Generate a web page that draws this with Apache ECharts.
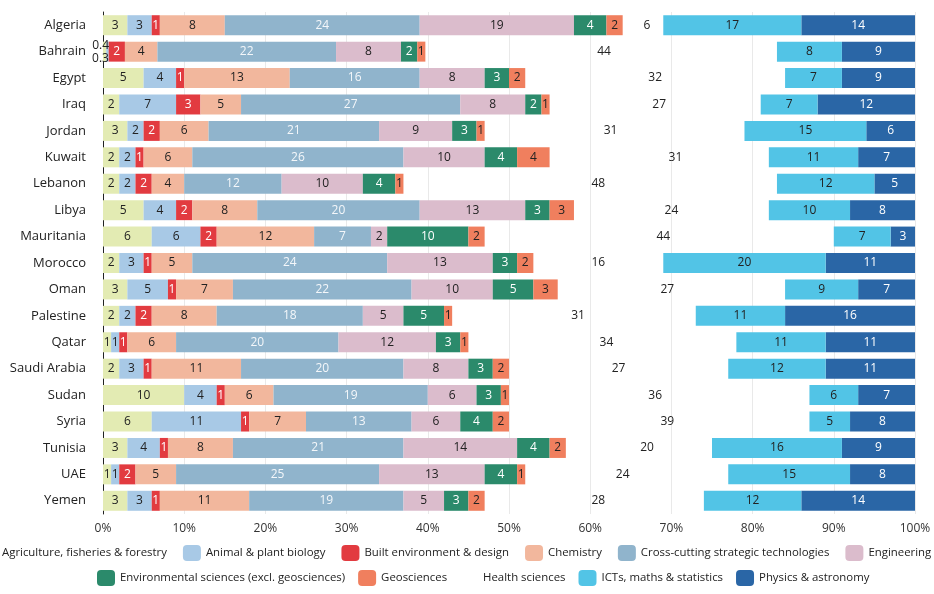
<!DOCTYPE html>
<html><head><meta charset="utf-8">
<script src="https://cdn.jsdelivr.net/npm/echarts@6/dist/echarts.min.js"></script>
<style>html,body{margin:0;padding:0;background:#fff}#c{width:934px;height:594px}</style>
</head><body><div id="c"></div>
<script>
const countries = ['Algeria','Bahrain','Egypt','Iraq','Jordan','Kuwait','Lebanon','Libya','Mauritania','Morocco','Oman','Palestine','Qatar','Saudi Arabia','Sudan','Syria','Tunisia','UAE','Yemen'];
const agriculture   = [3,0.4,5,2,3,2,2,5,6,2,3,2,1,2,10,6,3,1,3];
const animalPlant   = [3,0.3,4,7,2,2,2,4,6,3,5,2,1,3,4,11,4,1,3];
const builtEnv      = [1,2,1,3,2,1,2,2,2,1,1,2,1,1,1,1,1,2,1];
const chemistry     = [8,4,13,5,6,6,4,8,12,5,7,8,6,11,6,7,8,5,11];
const crossCutting  = [24,22,16,27,21,26,12,20,7,24,22,18,20,20,19,13,21,25,19];
const engineering   = [19,8,8,8,9,10,10,13,2,13,10,5,12,8,6,6,14,13,5];
const environmental = [4,2,3,2,3,4,4,3,10,3,5,5,3,3,3,4,4,4,3];
const geosciences   = [2,1,2,1,1,4,1,3,2,2,3,1,1,2,1,2,2,1,2];
const health        = [6,44,32,27,31,31,48,24,44,16,27,31,34,27,36,39,20,24,28];
const icts          = [17,8,7,7,15,11,12,10,7,20,9,11,11,12,6,5,16,15,12];
const physics       = [14,9,9,12,6,7,5,8,3,11,7,16,11,11,7,8,9,8,14];
const xTickValues   = [0,10,20,30,40,50,60,70,80,90,100];

const FONT = 'Open Sans';
const dark = '#222';
const white = '#ffffff';

const leftDefs = [
  {name:'Agriculture, fisheries & forestry', data:agriculture, color:'#e3ebb3', lc:dark, small:[-4,-6]},
  {name:'Animal & plant biology', data:animalPlant, color:'#a8c9e6', lc:dark, small:[-7,7]},
  {name:'Built environment & design', data:builtEnv, color:'#e23b40', lc:white},
  {name:'Chemistry', data:chemistry, color:'#f2b79d', lc:dark},
  {name:'Cross-cutting strategic technologies', data:crossCutting, color:'#90b4cc', lc:'#f4f7fa'},
  {name:'Engineering', data:engineering, color:'#dbbccc', lc:dark},
  {name:'Environmental sciences (excl. geosciences)', data:environmental, color:'#2b8a6b', lc:white},
  {name:'Geosciences', data:geosciences, color:'#f07f5e', lc:dark},
  {name:'Health sciences', data:health, color:'rgba(0,0,0,0)', lc:dark}
];
const rightDefs = [
  {name:'Physics & astronomy', data:physics, color:'#2a66a6', lc:white},
  {name:'ICTs, maths & statistics', data:icts, color:'#52c4e6', lc:dark}
];

function mk(def, stack, xIdx){
  return {
    name: def.name, type:'bar', stack: stack, xAxisIndex: xIdx, yAxisIndex: 0,
    barWidth: 20, barGap: '-100%', silent: true,
    itemStyle: {color: def.color},
    emphasis: {disabled: true},
    label: {show: true, position: 'inside', color: def.lc, fontSize: 12, fontFamily: FONT,
            textBorderWidth: 0, formatter: p => String(p.value)},
    data: def.data.map(v => (v < 1 && def.small) ? {value: v, label: {offset: def.small}} : v)
  };
}

const series = leftDefs.map(d => mk(d, 'left', 0)).concat(rightDefs.map(d => mk(d, 'right', 1)));

const legendText = {fontSize: 11.4, color:'#222', fontFamily: FONT};
const chart = echarts.init(document.getElementById('c'), null, {renderer:'canvas'});
chart.setOption({
  animation: false,
  backgroundColor: '#fff',
  textStyle: {fontFamily: FONT},
  grid: {left: 103, right: 19, top: 12, bottom: 80},
  xAxis: [
    {type:'value', min: xTickValues[0], max: xTickValues[xTickValues.length-1], interval: 10,
     axisLine:{show:false}, axisTick:{show:false},
     splitLine:{show:true, lineStyle:{color:'#e9e9e9', width:1}},
     axisLabel:{formatter:'{value}%', fontSize:12, color:'#333', margin:9, fontFamily: FONT}},
    {type:'value', min:0, max:100, inverse:true, show:false, splitLine:{show:false}}
  ],
  yAxis: {type:'category', data: countries, inverse: true,
    axisLine:{show:true, lineStyle:{color:'#222', width:1}}, axisTick:{show:false},
    splitLine:{show:false},
    axisLabel:{fontSize:13, color:'#222', margin:17, fontFamily: FONT}},
  legend: [
    {top: 545, left: -21, width: 990, padding: 0, itemWidth: 18, itemHeight: 16, itemGap: 16,
     textStyle: legendText, selectedMode:false,
     data: [{name:'Agriculture, fisheries & forestry', itemStyle:{opacity:0}}, 'Animal & plant biology', 'Built environment & design', 'Chemistry', 'Cross-cutting strategic technologies', 'Engineering']},
    {top: 570, left: 97, width: 830, padding: 0, itemWidth: 18, itemHeight: 16, itemGap: 13,
     textStyle: legendText, selectedMode:false,
     data: ['Environmental sciences (excl. geosciences)', 'Geosciences', 'Health sciences', 'ICTs, maths & statistics', 'Physics & astronomy']}
  ],
  series: series
});
</script></body></html>
